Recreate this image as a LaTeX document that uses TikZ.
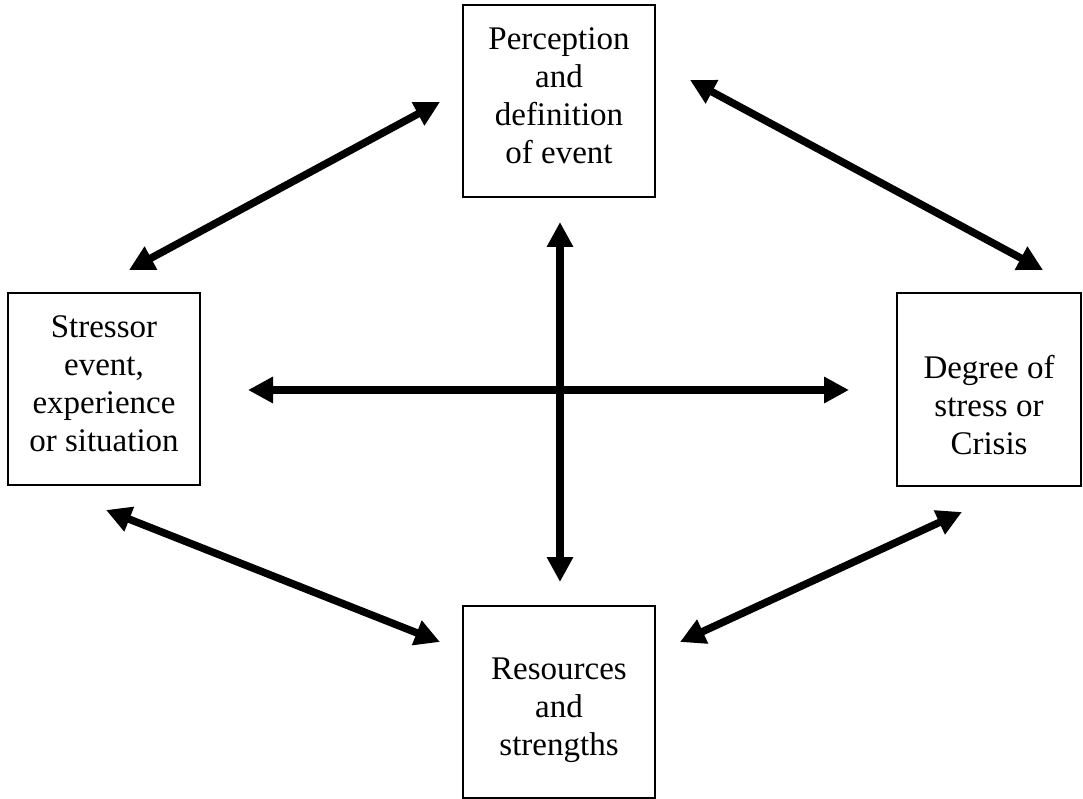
\documentclass[tikz,border=0pt]{standalone}
\usepackage{fontspec}
\setmainfont{Liberation Serif}
\usetikzlibrary{arrows.meta}

\begin{document}
\begin{tikzpicture}[x=1pt,y=-1pt,
  box/.style={draw, line width=2pt, minimum width=192pt, minimum height=192pt, inner sep=0pt},
  lbl/.style={align=center, inner sep=0pt, font=\fontsize{33}{38}\selectfont},
  link/.style={line width=7.5pt, {Triangle[length=25pt,width=25pt]}-{Triangle[length=25pt,width=25pt]}}
]
\useasboundingbox (0,0) rectangle (1083,799);

% the four boxes
\node[box] (perc) at (559,101.5) {};
\node[box] (stress) at (104,389) {};
\node[box, minimum width=184pt] (degree) at (989,389.5) {};
\node[box] (res) at (559,702) {};

% their texts
\node[lbl] (percT) at (559,96) {Perception\\and\\definition\\of event};
\node[lbl] (stressT) at (104,384) {Stressor\\event,\\experience\\or situation};
\node[lbl] (degreeT) at (989,405) {Degree of\\stress or\\Crisis};
\node[lbl] (resT) at (559,710) {Resources\\and\\strengths};

% arrow ends
\coordinate (hl) at (248,390);
\coordinate (hr) at (849,390);
\coordinate (vt) at (560,222);
\coordinate (vb) at (560,582);
\coordinate (tlA) at (129,270);
\coordinate (tlB) at (440,102);
\coordinate (trA) at (690,80);
\coordinate (trB) at (1043,270);
\coordinate (blA) at (106,510);
\coordinate (blB) at (440,642);
\coordinate (brA) at (680,642);
\coordinate (brB) at (962,512);

% connectors
\draw[link] (hl) -- (hr);
\draw[link] (vt) -- (vb);
\draw[link] (tlA) -- (tlB);
\draw[link] (trA) -- (trB);
\draw[link] (blA) -- (blB);
\draw[link] (brA) -- (brB);
\end{tikzpicture}
\end{document}
